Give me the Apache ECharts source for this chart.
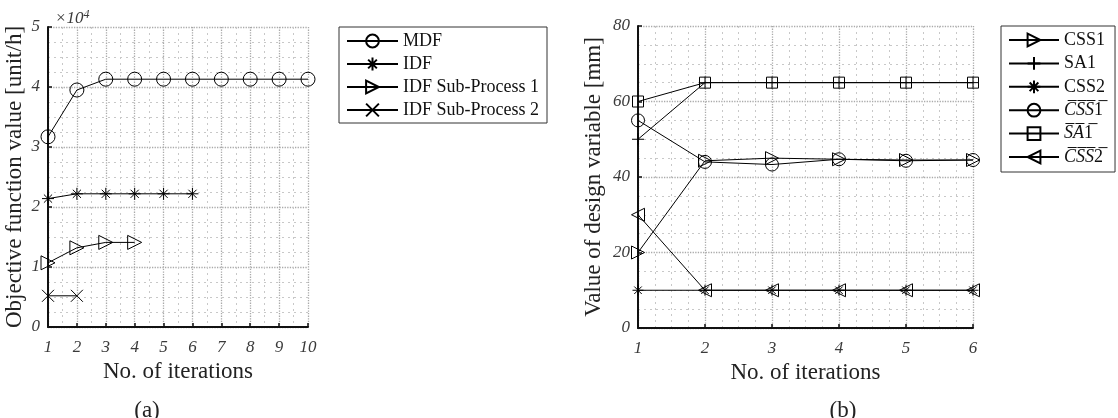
<!DOCTYPE html>
<html><head><meta charset="utf-8">
<script src="https://cdn.jsdelivr.net/npm/echarts@6/dist/echarts.min.js"></script>
<style>html,body{margin:0;padding:0;background:#fff}#c{width:1118px;height:418px}</style>
</head><body><div id="c"></div>
<script>
// ---- data: chart (a) ----
const itersA = [1, 2, 3, 4, 5, 6, 7, 8, 9, 10];
const mdf = [31700, 39500, 41300, 41300, 41300, 41300, 41300, 41300, 41300, 41300];
const idf = [21400, 22200, 22200, 22200, 22200, 22200];
const idfSub1 = [10700, 13200, 14100, 14100];
const idfSub2 = [5200, 5200];
const yScaleA = 10000;
// ---- data: chart (b) ----
const itersB = [1, 2, 3, 4, 5, 6];
const css1 = [20, 44.3, 45, 44.7, 44.5, 44.5];
const sa1 = [50, 65, 65, 65, 65, 65];
const css2 = [10, 10, 10, 10, 10, 10];
const css1Bar = [55, 44, 43.3, 44.7, 44.3, 44.5];
const sa1Bar = [60, 65, 65, 65, 65, 65];
const css2Bar = [30, 10, 10, 10, 10, 10];

const SERIF = '"Liberation Serif", "Times New Roman", serif';
const OL = '\u0305';
const SYM = {
  triR: 'path://M0,0L10,5L0,10Z',
  triL: 'path://M10,0L0,5L10,10Z',
  cross: 'path://M0,0L10,10M10,0L0,10',
  plus: 'path://M5,0L5,10M0,5L10,5',
  star: 'path://M5,0L5,10M0,5L10,5M1.6,1.6L8.4,8.4M8.4,1.6L1.6,8.4'
};
function pts(xs, ys) { return ys.map((v, i) => [xs[i], v]); }
function over(s) { return s.split('').map(c => c + OL).join(''); }
function ser(name, xs, ys, sym, size, axis) {
  return {
    name, type: 'line', data: pts(xs, ys), xAxisIndex: axis, yAxisIndex: axis,
    symbol: sym, symbolSize: size, symbolKeepAspect: true, showAllSymbol: true,
    lineStyle: { color: '#000', width: 1 },
    itemStyle: { color: 'rgba(0,0,0,0)', borderColor: '#000', borderWidth: 1 },
    emphasis: { disabled: true }, silent: true, animation: false, z: 5
  };
}
const tickLabel = { fontFamily: SERIF, fontStyle: 'italic', fontSize: 17, color: '#3a3a3a' };
const nameStyle = { fontFamily: SERIF, fontSize: 23, color: '#222' };
function xAx(idx, min, max, minorSplit, grid) {
  return {
    gridIndex: grid, type: 'value', min, max, interval: 1,
    name: 'No. of iterations', nameLocation: 'middle', nameGap: 33, nameTextStyle: nameStyle,
    axisLine: { show: true, lineStyle: { color: '#111', width: 2 } },
    axisTick: { show: true, inside: true, length: 4, lineStyle: { color: '#111', width: 1.5 } },
    axisLabel: Object.assign({ margin: 12 }, tickLabel),
    splitLine: { show: true, lineStyle: { color: '#aaaaaa', type: 'dotted', width: 1.3 } },
    minorTick: { show: false, splitNumber: minorSplit },
    minorSplitLine: { show: true, lineStyle: { color: '#c8c8c8', type: [2, 4], width: 1 } }
  };
}
function yAx(grid, min, max, interval, name, gap, fmt) {
  return {
    gridIndex: grid, type: 'value', min, max, interval,
    name, nameLocation: 'middle', nameGap: gap, nameTextStyle: nameStyle,
    axisLine: { show: true, lineStyle: { color: '#111', width: 2 } },
    axisTick: { show: true, inside: true, length: 4, lineStyle: { color: '#111', width: 1.5 } },
    axisLabel: Object.assign({ margin: 8, formatter: fmt }, tickLabel),
    splitLine: { show: true, lineStyle: { color: '#aaaaaa', type: 'dotted', width: 1.3 } },
    minorTick: { show: false, splitNumber: 4 },
    minorSplitLine: { show: true, lineStyle: { color: '#c8c8c8', type: [2, 4], width: 1 } }
  };
}
const legendText = { fontFamily: SERIF, fontSize: 18, color: '#111', lineHeight: 17 };
const labelB = {
  CSS1: '{n|CSS1}', SA1: '{n|SA1}', CSS2: '{n|CSS2}',
  CSS1b: '{i|' + over('CSS') + '}{n|' + over('1') + '}',
  SA1b: '{i|' + over('SA') + '}{n|' + over('1') + '}',
  CSS2b: '{i|' + over('CSS') + '}{n|' + over('2') + '}'
};
const chart = echarts.init(document.getElementById('c'), null, { renderer: 'canvas' });
chart.setOption({
  animation: false,
  backgroundColor: '#fff',
  grid: [
    { left: 48, top: 27, width: 260, height: 300 },
    { left: 638, top: 26, width: 335, height: 302 }
  ],
  xAxis: [xAx(0, 1, 10, 2, 0), xAx(1, 1, 6, 4, 1)],
  yAxis: [
    yAx(0, 0, 50000, 10000, 'Objective function value [unit/h]', 22, v => String(v / yScaleA)),
    yAx(1, 0, 80, 20, 'Value of design variable [mm]', 33, v => String(v))
  ],
  legend: [
    {
      data: ['MDF', 'IDF', 'IDF Sub-Process 1', 'IDF Sub-Process 2'],
      left: 339, top: 27, orient: 'vertical', itemWidth: 51, itemHeight: 16, itemGap: 5,
      padding: [5, 8, 4, 7], borderColor: '#333', borderWidth: 1, backgroundColor: '#fff',
      textStyle: legendText, selectedMode: false
    },
    {
      data: ['CSS1', 'SA1', 'CSS2', 'CSS1b', 'SA1b', 'CSS2b'],
      left: 1001, top: 26, orient: 'vertical', itemWidth: 50, itemHeight: 16, itemGap: 5.4,
      padding: [5, 10, 6, 7], borderColor: '#333', borderWidth: 1, backgroundColor: '#fff',
      selectedMode: false,
      formatter: n => labelB[n],
      textStyle: {
        fontFamily: SERIF, fontSize: 18, color: '#111', lineHeight: 18,
        rich: {
          n: { fontFamily: SERIF, fontSize: 18, lineHeight: 18, color: '#111' },
          i: { fontFamily: SERIF, fontSize: 18, lineHeight: 18, fontStyle: 'italic', color: '#111' }
        }
      }
    }
  ],
  title: [
    { text: '{a|×10}{s|4}', left: 50, top: 4,
      textStyle: { fontWeight: 'normal', rich: {
        a: { fontFamily: SERIF, fontStyle: 'italic', fontWeight: 'normal', fontSize: 17, color: '#3a3a3a', verticalAlign: 'bottom' },
        s: { fontFamily: SERIF, fontStyle: 'italic', fontWeight: 'normal', fontSize: 12, color: '#3a3a3a', verticalAlign: 'top', padding: [0, 0, 6, 0] }
      } } },
    { text: '(a)', left: 142, top: 394, textAlign: 'center', textStyle: { fontFamily: SERIF, fontSize: 23, fontWeight: 'normal', color: '#222' } },
    { text: '(b)', left: 838, top: 394, textAlign: 'center', textStyle: { fontFamily: SERIF, fontSize: 23, fontWeight: 'normal', color: '#222' } }
  ],
  series: [
    ser('MDF', itersA, mdf, 'circle', 14, 0),
    ser('IDF', itersA, idf, SYM.star, 12, 0),
    ser('IDF Sub-Process 1', itersA, idfSub1, SYM.triR, 14, 0),
    ser('IDF Sub-Process 2', itersA, idfSub2, SYM.cross, 12, 0),
    ser('CSS1', itersB, css1, SYM.triR, 13, 1),
    ser('SA1', itersB, sa1, SYM.plus, 12, 1),
    ser('CSS2', itersB, css2, SYM.star, 11, 1),
    ser('CSS1b', itersB, css1Bar, 'circle', 13, 1),
    ser('SA1b', itersB, sa1Bar, 'rect', 11, 1),
    ser('CSS2b', itersB, css2Bar, SYM.triL, 13, 1)
  ]
});
</script></body></html>
